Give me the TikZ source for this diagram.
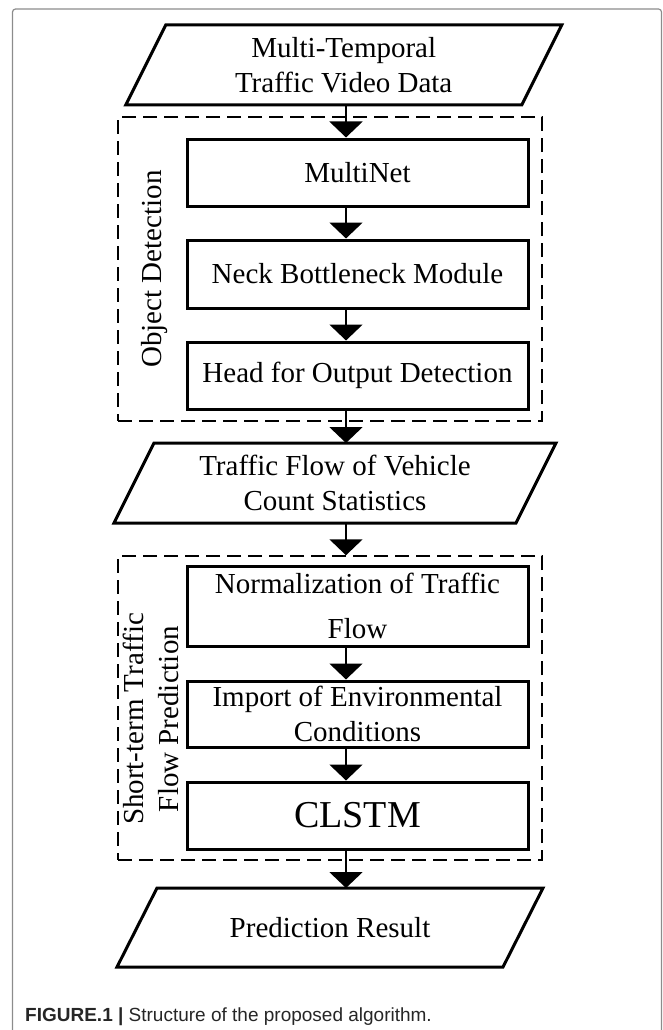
\documentclass[tikz,border=0pt]{standalone}
\usepackage{fontspec}
\setmainfont{Liberation Serif}
\newfontfamily\capfont{Liberation Sans}
\usetikzlibrary{%
  arrows.meta%
}

\begin{document}
\begin{tikzpicture}[x=1pt,y=-1pt,
  txt/.style={font=\fontsize{29}{35}\selectfont},
  io/.style={txt,minimum height=80pt,align=center,inner sep=0pt,outer sep=0pt},
  ioline/.style={line width=3pt,line join=miter},
  stage/.style={txt,draw,line width=3pt,minimum width=341pt,align=center,inner sep=0pt},
  group/.style={draw,dash pattern=on 14pt off 7pt,line width=1.5pt,minimum width=424pt},
  flow/.style={line width=2.2pt,-{Triangle[width=33pt,length=16pt]}}]
\useasboundingbox (0,0) rectangle (663,1030);
\draw[black!45,line width=1.2pt,rounded corners=3pt] (12.5,1030) |- (661.5,9) -- (661.5,1030);

\node[io,minimum width=436pt] (video) at (343.7,65) {Multi-Temporal\\Traffic Video Data};
\node[stage,minimum height=67pt] (mnet) at (357.5,172.5) {MultiNet};
\node[stage,minimum height=68pt] (neck) at (357.5,274) {Neck Bottleneck Module};
\node[stage,minimum height=67pt] (head) at (357.5,375.5) {Head for Output Detection};
\node[io,minimum width=442pt] (count) at (335,483) {Traffic Flow of Vehicle\\Count Statistics};
\node[stage,minimum height=80pt] (norm) at (357.5,606) {Normalization of Traffic\\[10pt]Flow};
\node[stage,minimum height=66pt] (env) at (357.5,714) {Import of Environmental\\Conditions};
\node[stage,minimum height=67pt,font=\fontsize{38}{44}\selectfont] (clstm) at (357.5,815.5) {CLSTM};
\node[io,minimum width=426pt,minimum height=79pt] (result) at (330,927.5) {Prediction Result};

\draw[ioline] ([xshift=40pt]video.north west) -- (video.north east) -- ([xshift=-40pt]video.south east) -- (video.south west) -- cycle;
\draw[ioline] ([xshift=40pt]count.north west) -- (count.north east) -- ([xshift=-40pt]count.south east) -- (count.south west) -- cycle;
\draw[ioline] ([xshift=40pt]result.north west) -- (result.north east) -- ([xshift=-40pt]result.south east) -- (result.south west) -- cycle;

\node[group,minimum height=304pt] (detect) at (330,269) {};
\node[group,minimum height=304pt] (predict) at (330,708) {};
\node[txt,rotate=90] (detlabel) at (155,269) {Object Detection};
\node[txt,rotate=90,align=center] (predlabel) at (151,719) {Short-term Traffic\\Flow Prediction};

\coordinate (ax) at (346,0);
\draw[flow] (video.south -| ax) -- (mnet.north -| ax);
\draw[flow] (mnet.south -| ax) -- (neck.north -| ax);
\draw[flow] (neck.south -| ax) -- (head.north -| ax);
\draw[flow] (head.south -| ax) -- (count.north -| ax);
\draw[flow] (count.south -| ax) -- (predict.north -| ax);
\draw[flow] (norm.south -| ax) -- (env.north -| ax);
\draw[flow] (env.south -| ax) -- (clstm.north -| ax);
\draw[flow] (clstm.south -| ax) -- (result.north -| ax);

\node[anchor=base west,inner sep=0pt,text=black!85,font=\capfont\fontsize{19}{23}\selectfont] (caption) at (25,1021.5) {\textbf{FIGURE.1 |} Structure of the proposed algorithm.};
\end{tikzpicture}
\end{document}
